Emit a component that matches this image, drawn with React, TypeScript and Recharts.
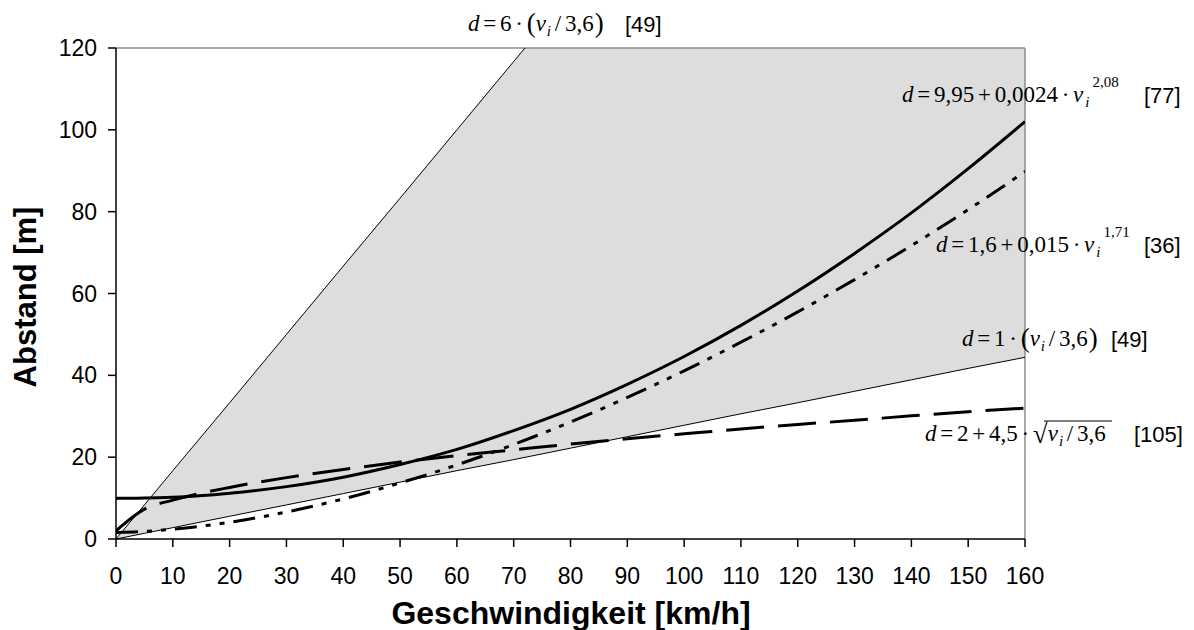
import React from 'react';
import { ComposedChart, Area, Line, XAxis, YAxis, ReferenceLine } from 'recharts';

// Geschwindigkeit [km/h]
const speeds = [0, 5, 10, 20, 30, 40, 50, 60, 70, 80, 90, 100, 110, 120, 130, 140, 150, 160];

// d = 9,95 + 0,0024 * v^2,08  [77]
const distRef77 = [9.95, 10.0, 10.2, 11.2, 12.8, 15.1, 18.2, 21.9, 26.5, 31.7, 37.8, 44.6, 52.2, 60.6, 69.8, 79.7, 90.5, 102.0];
// d = 1,6 + 0,015 * v^1,71  [36]
const distRef36 = [1.6, 1.84, 2.4, 4.1, 6.6, 9.8, 13.7, 18.1, 23.1, 28.6, 34.6, 41.1, 48.1, 55.5, 63.4, 71.7, 80.5, 89.8];
// d = 2 + 4,5 * sqrt(v / 3,6)  [105]
const distRef105 = [2.0, 7.3, 9.5, 12.6, 15.0, 17.0, 18.8, 20.4, 21.8, 23.2, 24.5, 25.7, 26.9, 28.0, 29.0, 30.1, 31.1, 32.0];
// d = 1 * (v / 3,6) and d = 6 * (v / 3,6)  [49]
const distLower49 = [0, 1.39, 2.78, 5.56, 8.33, 11.1, 13.9, 16.7, 19.4, 22.2, 25.0, 27.8, 30.6, 33.3, 36.1, 38.9, 41.7, 44.4];
const distUpper49 = [0, 8.33, 16.7, 33.3, 50, 66.7, 83.3, 100, 116.7, 133.3, 150, 166.7, 183.3, 200, 216.7, 233.3, 250, 266.7];

const xTicks = [0, 10, 20, 30, 40, 50, 60, 70, 80, 90, 100, 110, 120, 130, 140, 150, 160];
const yTicks = [0, 20, 40, 60, 80, 100, 120];

const data = speeds.map((v, i) => ({
  v,
  r77: distRef77[i],
  r36: distRef36[i],
  r105: distRef105[i],
  lower: distLower49[i],
  upper: distUpper49[i],
  band: [distLower49[i], distUpper49[i]],
}));

const W = 1194;
const H = 630;
const serif = '"Liberation Serif", "Times New Roman", serif';
const sans = '"Liberation Sans", Arial, sans-serif';

const tickStyle = { fontSize: 23, fill: '#000', fontFamily: sans };

// formula typesetting: italic variables, upright numbers, tight spaces
const F = 23;
const S = 15;
const P = 27; // parentheses / radical
const formulaStyle = { wordSpacing: -2 };

const Ref = ({ x, y, text }: { x: number; y: number; text: string }) => (
  <text x={x} y={y} fontFamily={sans} fontSize={22} fill="#000">{text}</text>
);

const Annotations = () => (
  <svg width={W} height={H} style={{ position: 'absolute', left: 0, top: 0, pointerEvents: 'none' }}>
    {/* d = 6·(v_i / 3,6) */}
    <text x={468} y={31} fontFamily={serif} fontSize={F} fill="#000" style={formulaStyle}>
      <tspan fontStyle="italic">d</tspan>
      <tspan> = 6 · </tspan>
      <tspan fontSize={P} dy={1}>(</tspan>
      <tspan fontStyle="italic" dy={-1}>v</tspan>
      <tspan fontStyle="italic" fontSize={S} dx={1} dy={5}>i</tspan>
      <tspan dy={-5}> / 3,6</tspan>
      <tspan fontSize={P} dx={1} dy={1}>)</tspan>
    </text>
    <Ref x={625} y={32} text="[49]" />

    {/* d = 9,95 + 0,0024·v_i^2,08 */}
    <text x={902} y={102} fontFamily={serif} fontSize={F} fill="#000" style={formulaStyle}>
      <tspan fontStyle="italic">d</tspan>
      <tspan> = 9,95 + 0,0024 · </tspan>
      <tspan fontStyle="italic">v</tspan>
      <tspan fontStyle="italic" fontSize={S} dx={2} dy={5}>i</tspan>
      <tspan fontSize={S} dx={3} dy={-20}>2,08</tspan>
    </text>
    <Ref x={1144} y={103} text="[77]" />

    {/* d = 1,6 + 0,015·v_i^1,71 */}
    <text x={936} y={252} fontFamily={serif} fontSize={F} fill="#000" style={formulaStyle}>
      <tspan fontStyle="italic">d</tspan>
      <tspan> = 1,6 + 0,015 · </tspan>
      <tspan fontStyle="italic">v</tspan>
      <tspan fontStyle="italic" fontSize={S} dx={2} dy={5}>i</tspan>
      <tspan fontSize={S} dx={3} dy={-20}>1,71</tspan>
    </text>
    <Ref x={1144} y={253} text="[36]" />

    {/* d = 1·(v_i / 3,6) */}
    <text x={962} y={346} fontFamily={serif} fontSize={F} fill="#000" style={formulaStyle}>
      <tspan fontStyle="italic">d</tspan>
      <tspan> = 1 · </tspan>
      <tspan fontSize={P} dy={1}>(</tspan>
      <tspan fontStyle="italic" dy={-1}>v</tspan>
      <tspan fontStyle="italic" fontSize={S} dx={1} dy={5}>i</tspan>
      <tspan dy={-5}> / 3,6</tspan>
      <tspan fontSize={P} dx={1} dy={1}>)</tspan>
    </text>
    <Ref x={1111} y={347} text="[49]" />

    {/* d = 2 + 4,5·sqrt(v_i / 3,6) */}
    <text x={925} y={441} fontFamily={serif} fontSize={F} fill="#000" style={formulaStyle}>
      <tspan fontStyle="italic">d</tspan>
      <tspan> = 2 + 4,5 · </tspan>
      <tspan fontSize={P} dy={2}>√</tspan>
      <tspan fontStyle="italic" dy={-2}>v</tspan>
      <tspan fontStyle="italic" fontSize={S} dx={1} dy={5}>i</tspan>
      <tspan dy={-5}> / 3,6</tspan>
    </text>
    <line x1={1044} y1={421} x2={1112} y2={421} stroke="#000" strokeWidth={1} />
    <Ref x={1134} y={442} text="[105]" />

    {/* axis titles */}
    <text x={571} y={624} textAnchor="middle" fontFamily={sans} fontWeight="bold" fontSize={32} fill="#000">
      Geschwindigkeit [km/h]
    </text>
    <text
      x={0}
      y={0}
      transform="translate(36 297) rotate(-90)"
      textAnchor="middle"
      fontFamily={sans}
      fontWeight="bold"
      fontSize={31}
      fill="#000"
    >
      Abstand [m]
    </text>
  </svg>
);

const App: React.FC = () => {
  return (
    <div style={{ position: 'absolute', left: 0, top: 0, width: W, height: H, background: '#fff' }}>
      <ComposedChart width={W} height={H} data={data} margin={{ top: 48, right: 169, bottom: 0, left: 0 }}>
        <XAxis
          dataKey="v"
          type="number"
          domain={[0, 160]}
          ticks={xTicks}
          height={91}
          tick={tickStyle}
          tickSize={8}
          tickMargin={21}
          stroke="#000"
          strokeWidth={1.5}
          allowDataOverflow
        />
        <YAxis
          type="number"
          domain={[0, 120]}
          ticks={yTicks}
          width={116}
          tick={tickStyle}
          tickSize={8}
          tickMargin={11}
          stroke="#000"
          strokeWidth={1.5}
          allowDataOverflow
        />
        {/* range between d = 1·v/3,6 and d = 6·v/3,6 */}
        <Area
          dataKey="band"
          type="linear"
          fill="#dddddd"
          fillOpacity={1}
          stroke="none"
          isAnimationActive={false}
        />
        <ReferenceLine y={120} stroke="#8c8c8c" strokeWidth={1.5} />
        <ReferenceLine x={160} stroke="#8c8c8c" strokeWidth={1.5} />
        <Line dataKey="upper" type="linear" stroke="#000" strokeWidth={1} dot={false} isAnimationActive={false} />
        <Line dataKey="lower" type="linear" stroke="#000" strokeWidth={1} dot={false} isAnimationActive={false} />
        <Line
          dataKey="r105"
          type="monotone"
          stroke="#000"
          strokeWidth={3}
          strokeDasharray="38 14"
          dot={false}
          isAnimationActive={false}
        />
        <Line
          dataKey="r36"
          type="monotone"
          stroke="#000"
          strokeWidth={3}
          strokeDasharray="22 9 5 9 5 9"
          dot={false}
          isAnimationActive={false}
        />
        <Line dataKey="r77" type="monotone" stroke="#000" strokeWidth={3} dot={false} isAnimationActive={false} />
      </ComposedChart>
      <Annotations />
    </div>
  );
};

export default App;
